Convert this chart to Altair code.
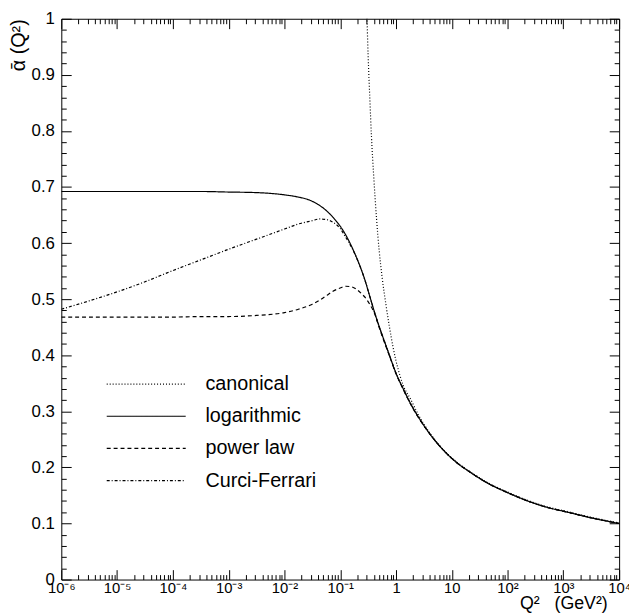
import altair as alt
import pandas as pd

# ---- values: log10(Q^2 / GeV^2) and alpha-bar ----
series = ["canonical", "logarithmic", "power law", "Curci-Ferrari"]

log_lx = [-6, -5, -4, -3.5, -3, -2.5, -2.0, -1.75, -1.56, -1.4, -1.25, -1.13, -1.0,
          -0.94, -0.85, -0.75, -0.65, -0.56, -0.47, -0.38, -0.28, -0.19, -0.1, 0.0,
          0.13, 0.26, 0.4, 0.56, 0.8, 1.07, 1.35, 1.64, 2.0, 2.39, 2.7, 3.08, 3.5, 4.0]
log_v = [0.692, 0.692, 0.692, 0.692, 0.691, 0.690, 0.686, 0.682, 0.677, 0.669, 0.658,
         0.646, 0.630, 0.621, 0.605, 0.584, 0.560, 0.535, 0.505, 0.475, 0.445, 0.420,
         0.395, 0.368, 0.340, 0.314, 0.290, 0.266, 0.236, 0.210, 0.190, 0.172, 0.155,
         0.139, 0.129, 0.120, 0.110, 0.100]

can_lx = [-0.54, -0.52, -0.50, -0.47, -0.44, -0.40, -0.35, -0.30, -0.25, -0.18, -0.12,
          -0.05, 0.0, 0.07, 0.13, 0.26, 0.4, 0.56, 0.8, 1.07, 1.35, 1.64, 2.0, 2.39,
          2.7, 3.08, 3.5, 4.0]
can_v = [1.06, 1.0, 0.935, 0.86, 0.79, 0.72, 0.645, 0.585, 0.54, 0.49, 0.452, 0.413,
         0.39, 0.364, 0.346, 0.322, 0.294, 0.268, 0.237, 0.211, 0.191, 0.173, 0.156,
         0.140, 0.130, 0.121, 0.111, 0.101]

pow_lx = [-6, -5, -4, -3.5, -3, -2.5, -2.0, -1.75, -1.5, -1.37, -1.25, -1.13, -1.0,
          -0.9, -0.8, -0.7, -0.6, -0.53, -0.46, -0.4, -0.28, -0.19, -0.1, 0.0, 0.13,
          0.26, 0.4, 0.56, 0.8, 1.07, 1.35, 1.64, 2.0, 2.39, 2.7, 3.08, 3.5, 4.0]
pow_v = [0.468, 0.468, 0.468, 0.469, 0.469, 0.471, 0.476, 0.482, 0.491, 0.498, 0.506,
         0.514, 0.520, 0.523, 0.522, 0.517, 0.508, 0.500, 0.489, 0.478, 0.443, 0.418,
         0.394, 0.367, 0.339, 0.313, 0.289, 0.266, 0.236, 0.210, 0.190, 0.172, 0.155,
         0.139, 0.129, 0.120, 0.110, 0.100]

cf_lx = [-6, -5.5, -5, -4.5, -4, -3.5, -3, -2.5, -2.0, -1.75, -1.5, -1.37, -1.25,
         -1.13, -1.0, -0.9, -0.85, -0.75, -0.65, -0.56, -0.47, -0.38, -0.28, -0.19,
         -0.1, 0.0, 0.13, 0.26, 0.4, 0.56, 0.8, 1.07, 1.35, 1.64, 2.0, 2.39, 2.7,
         3.08, 3.5, 4.0]
cf_v = [0.482, 0.497, 0.513, 0.531, 0.551, 0.570, 0.589, 0.607, 0.625, 0.634, 0.640,
        0.643, 0.642, 0.637, 0.626, 0.610, 0.602, 0.583, 0.560, 0.535, 0.505, 0.475,
        0.445, 0.420, 0.395, 0.368, 0.340, 0.314, 0.290, 0.266, 0.236, 0.210, 0.190,
        0.172, 0.155, 0.139, 0.129, 0.120, 0.110, 0.100]

x_labels = ["10⁻⁶", "10⁻⁵", "10⁻⁴", "10⁻³", "10⁻²", "10⁻¹", "1", "10", "10²", "10³", "10⁴"]
x_exps = list(range(-6, 5))
y_major = [0, 0.1, 0.2, 0.3, 0.4, 0.5, 0.6, 0.7, 0.8, 0.9, 1.0]

rows = []
for name, lx, vals in [("canonical", can_lx, can_v), ("logarithmic", log_lx, log_v),
                       ("power law", pow_lx, pow_v), ("Curci-Ferrari", cf_lx, cf_v)]:
    for a, b in zip(lx, vals):
        rows.append({"Q2": 10.0 ** a, "alpha": b, "model": name})
df = pd.DataFrame(rows)

FONT = "Liberation Sans"
W, H = 565, 568
XMAJ, XMIN, YMAJ, YMIN = 10, 5, 10, 5

xscale = alt.Scale(type="log", domain=[1e-6, 1e4], nice=False)
yscale = alt.Scale(domain=[0, 1], nice=False, zero=False)

x_major = [10.0 ** e for e in x_exps]
x_minor = [m * 10.0 ** e for e in x_exps[:-1] for m in range(2, 10)]
y_minor = [round(0.02 * k, 2) for k in range(51) if k % 5]

# ticks inside the frame are drawn as grid lines dashed so that only both ends show
x_is_major = "abs(log(datum.value)/LN10 - round(log(datum.value)/LN10)) < 0.001"
y_is_major = "abs(datum.value*10 - round(datum.value*10)) < 0.001"
x_label_expr = (x_is_major + " ? [" + ",".join("'%s'" % s for s in x_labels)
                + "][round(log(datum.value)/LN10)+6] : ''")
y_label_expr = y_is_major + " ? format(datum.value, '~g') : ''"

x_axis = alt.Axis(
    orient="bottom", values=x_major + x_minor, labelExpr=x_label_expr, ticks=False,
    domain=False, grid=True, gridColor="black", gridOpacity=1, gridWidth=1,
    gridDash={"condition": {"test": x_is_major, "value": [XMAJ, H - 2 * XMAJ, XMAJ, 0]},
              "value": [XMIN, H - 2 * XMIN, XMIN, 0]},
    labelFont=FONT, labelFontSize=15, labelPadding=1, labelColor="black",
    labelFlush=False, labelOverlap=False,
    title="Q²\u00a0\u00a0\u00a0(GeV²)", titleFont=FONT, titleFontSize=18,
    titleFontWeight="normal", titleColor="black", titleX=553, titleY=29,
    titleAlign="right", titleBaseline="alphabetic")

y_axis = alt.Axis(
    orient="left", values=y_major + y_minor, labelExpr=y_label_expr, ticks=False,
    domain=False, grid=True, gridColor="black", gridOpacity=1, gridWidth=1,
    gridDash={"condition": {"test": y_is_major, "value": [YMAJ, W - 2 * YMAJ, YMAJ, 0]},
              "value": [YMIN, W - 2 * YMIN, YMIN, 0]},
    labelFont=FONT, labelFontSize=17, labelPadding=7, labelColor="black",
    labelFlush=False, labelOverlap=False,
    title="ᾱ\u00a0(Q²)", titleFont=FONT, titleFontSize=20, titleFontWeight="normal",
    titleColor="black", titleAngle=-90, titleX=-43, titleY=0, titleAlign="right",
    titleBaseline="middle")

chart = alt.Chart(df).mark_line(color="black", strokeWidth=1.2, clip=True,
                                interpolate="monotone").encode(
    x=alt.X("Q2:Q", scale=xscale, axis=x_axis),
    y=alt.Y("alpha:Q", scale=yscale, axis=y_axis),
    strokeDash=alt.StrokeDash("model:N", sort=series, scale=alt.Scale(
        domain=series, range=[[1, 2], [1, 0], [4, 3], [3, 2, 1, 2]]),
        legend=alt.Legend(title=None, orient="none", legendX=35, legendY=359,
                          symbolType="M0,0H8", symbolSize=400, symbolStrokeWidth=1.2,
                          symbolStrokeColor="black", labelFont=FONT, labelFontSize=20,
                          labelColor="black", labelOffset=89, rowPadding=11.6, padding=0)),
).properties(
    width=W, height=H,
    autosize=alt.AutoSizeParams(type="none"),
    padding={"left": 54, "top": 7, "right": 10, "bottom": 31},
).configure_view(stroke="black", strokeWidth=1)

chart.save("out.html", embed_options={"renderer": "svg", "actions": False})
